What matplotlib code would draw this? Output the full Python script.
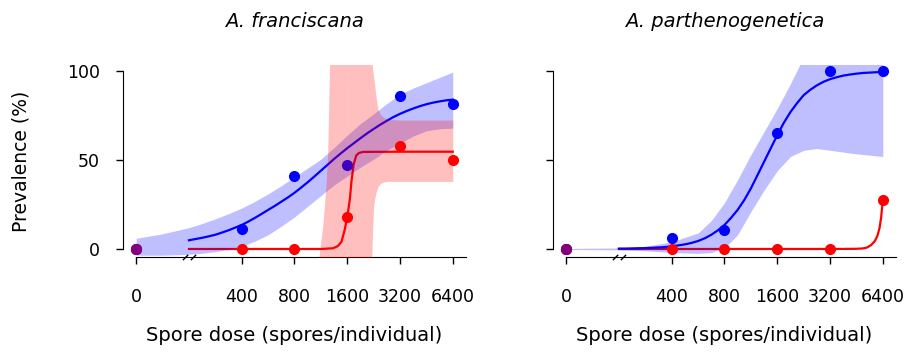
import numpy as np
import matplotlib
matplotlib.use("Agg")
import matplotlib.pyplot as plt
import matplotlib.transforms as mtransforms
from matplotlib.path import Path

# doses used in the experiment (spores/individual); 0 = unexposed control
DOSES = [0, 400, 800, 1600, 3200, 6400]
TICK_LABELS = ["0", "400", "800", "1600", "3200", "6400"]
TITLES = ["A. franciscana", "A. parthenogenetica"]

# observed prevalence (%)
fran_blue_pts = [0, 11.5, 41, 47.5, 86, 81.5]
fran_red_pts = [0, 0, 0, 18, 58, 50]
parth_blue_pts = [0, 6, 10.5, 65, 100, 100]
parth_red_pts = [0, 0, 0, 0, 0, 27.5]

# fitted curves
FIT_DOSES = [200, 218, 238, 259, 283, 308, 336, 367, 400, 436, 476, 519,
             566, 617, 673, 734, 800, 872, 951, 1037, 1131, 1234, 1345,
             1467, 1600, 1745, 1903, 2075, 2263, 2467, 2691, 2934, 3200,
             3490, 3805, 4150, 4525, 4935, 5382, 5869, 6400]
fran_blue_fit = [4.9, 5.6, 6.3, 7.1, 8, 9.2, 10.5, 12, 13.5, 15.4, 17.5,
                 19.7, 22, 24.2, 26.6, 29, 31.6, 34.5, 37.5, 40.7, 44,
                 47.3, 50.6, 53.7, 56.7, 59.5, 62.3, 65, 67.5, 69.9, 72.1,
                 74.2, 76, 77.6, 79, 80.3, 81.4, 82.3, 83, 83.6, 84]
parth_blue_fit = [0.2, 0.22, 0.3, 0.4, 0.5, 0.65, 0.85, 1.1, 1.5, 2, 2.6,
                  3.4, 4.5, 6, 8, 10.5, 13.5, 17.5, 22, 27.5, 34, 41.5, 49,
                  56.5, 64, 71, 77, 82, 86.5, 89.5, 92, 94, 95.5, 96.6, 97.5,
                  98.1, 98.6, 99, 99.2, 99.4, 99.6]

fran_red_fit_x = [200, 400, 800, 1131, 1327, 1412, 1483, 1545, 1600, 1656,
                  1691, 1739, 1800, 1864, 1970, 3200, 6400]
fran_red_fit = [0, 0, 0, 0, 0.4, 1.6, 4, 10.5, 18, 28,
                38, 47.5, 52.5, 54, 54.6, 54.7, 54.7]
parth_red_fit_x = [200, 400, 800, 1600, 3200, 4525, 4918, 5198, 5495, 5768,
                   5971, 6139, 6268, 6400]
parth_red_fit = [0, 0, 0, 0, 0, 0.1, 0.3, 0.8, 2.2, 4.5,
                 7.5, 12, 18, 27.5]

# confidence bands
fran_blue_band_x = [0, 141, 200, 238, 283, 336, 400, 476, 566, 673, 800,
                    951, 1131, 1345, 1600, 1903, 2263, 2691, 3200, 3805,
                    4525, 5382, 6400]
fran_blue_lo = [-3.5, -3.5, -3, -2.4, -1.5, -0.2, 1.5, 4.4, 8, 12.8, 18,
                24, 30, 36, 41, 46, 50.5, 55.5, 59.5, 63.5, 66.5, 67.6, 68]
fran_blue_hi = [6, 8.5, 12, 14.3, 17, 19.8, 23, 26.8, 31, 35.6, 40.5,
                45.5, 50.5, 57, 64, 70.5, 76, 81.8, 87, 90.5, 93.5, 96.5, 99.5]

parth_blue_band_x = [0, 200, 283, 400, 566, 673, 800, 951, 1131, 1345,
                     1600, 1903, 2263, 2691, 3200, 4525, 6400]
parth_blue_lo = [-0.3, -0.5, -1, -2, -2.5, -2, 0.5, 8, 21, 33,
                 44, 52, 55.5, 56.5, 55.5, 53.5, 52]
parth_blue_hi = [0.3, 0.6, 1.5, 4, 9, 16, 26, 39, 53, 66,
                 79, 93, 108, 110, 110, 110, 110]

fran_red_band_x = [1085, 1116, 1163, 1213, 1238, 1273, 1600, 2201, 2232,
                   2263, 2294, 2326, 2392, 2459, 2511, 2599, 2691, 2786,
                   3200, 6400]
fran_red_lo = [-10, -10, -10, -10, -10, -10, -10, -10, 10,
               24, 28, 31, 35, 36.5, 37.2, 37.7, 38, 38, 38, 38]
fran_red_hi = [-10, 0, 14, 37, 55, 110, 110, 110, 101,
               97, 92, 87, 79, 76, 75, 73.8, 73.2, 72.8, 72.5, 72.5]

BLUE = "#0000ff"
RED = "#ff0000"
PURPLE = "#800080"
CONTROL_SLOT = 100  # control drawn two doublings left of 400


def xpos(d):
    d = np.asarray(d, dtype=float)
    out = np.zeros_like(d)
    m = d > 0
    out[m] = np.log2(d[m] / CONTROL_SLOT)
    return out


def draw_panel(ax, title, blue_pts, red_pts, blue_fit, red_fit_x, red_fit,
               band_x, band_lo, band_hi, red_band=None, left_labels=True):
    ax.plot(xpos(red_fit_x), red_fit, color=RED, lw=1.6, zorder=1)
    ax.fill_between(xpos(band_x), band_lo, band_hi, color=BLUE, alpha=0.25,
                    lw=0, zorder=2)
    ax.plot(xpos(FIT_DOSES), blue_fit, color=BLUE, lw=1.6, zorder=3)
    ax.plot(xpos(DOSES), blue_pts, "o", color=BLUE, ms=7, zorder=4)
    if red_band is not None:
        rx, rlo, rhi = red_band
        k = rx.index(1600)
        # two pieces, which leaves the faint seam seen at 1600
        ax.fill_between(xpos(rx[:k + 1]), rlo[:k + 1], rhi[:k + 1],
                        color=RED, alpha=0.25, lw=0, zorder=5)
        ax.fill_between(xpos(rx[k:]), rlo[k:], rhi[k:],
                        color=RED, alpha=0.25, lw=0, zorder=5)
    ax.plot(xpos(DOSES), red_pts, "o", color=RED, ms=7, zorder=6)
    ax.plot(xpos(DOSES[:1]), red_pts[:1], "o", color=PURPLE, ms=7, zorder=7)

    ax.set_xlim(-0.25, 6.25)
    ax.set_ylim(-4.5, 103.5)
    for s in ["top", "right"]:
        ax.spines[s].set_visible(False)
    ax.spines["left"].set_bounds(0, 100)
    ax.spines["bottom"].set_bounds(0, 6.25)

    ax.set_xticks(xpos(DOSES), TICK_LABELS)
    ax.set_yticks([0, 50, 100])
    ax.tick_params(length=5, width=1, labelsize=12.5)
    ax.tick_params(axis="x", pad=17)
    ax.tick_params(axis="y", pad=11.5, labelleft=left_labels)

    ax.set_title(title, fontsize=14, style="italic", pad=27)
    ax.set_xlabel("Spore dose (spores/individual)", fontsize=14)
    ax.xaxis.set_label_coords(0.5, -0.36)
    if left_labels:
        ax.set_ylabel("Prevalence (%)", fontsize=13.5)
        ax.yaxis.set_label_coords(-0.27, 0.5)

    # axis break mark between control and 400
    slash = Path([(-1, -0.4), (-0.2, 0.4), (0.2, -0.4), (1, 0.4)],
                 [Path.MOVETO, Path.LINETO, Path.MOVETO, Path.LINETO])
    trans = mtransforms.blended_transform_factory(ax.transData, ax.transAxes)
    ax.plot(xpos([200]), [0], linestyle="none", marker=slash, ms=9.5,
            mec="black", mew=1, transform=trans, clip_on=False, zorder=8)


fig = plt.figure(figsize=(9.11, 3.53), dpi=100)
ax1 = fig.add_axes([0.135, 0.272, 0.3765, 0.544])
ax2 = fig.add_axes([0.607, 0.272, 0.3765, 0.544])

draw_panel(ax1, TITLES[0], fran_blue_pts, fran_red_pts, fran_blue_fit,
           fran_red_fit_x, fran_red_fit, fran_blue_band_x, fran_blue_lo,
           fran_blue_hi, red_band=(fran_red_band_x, fran_red_lo, fran_red_hi))
draw_panel(ax2, TITLES[1], parth_blue_pts, parth_red_pts, parth_blue_fit,
           parth_red_fit_x, parth_red_fit, parth_blue_band_x, parth_blue_lo,
           parth_blue_hi, left_labels=False)

fig.savefig("out.png", dpi=100)
